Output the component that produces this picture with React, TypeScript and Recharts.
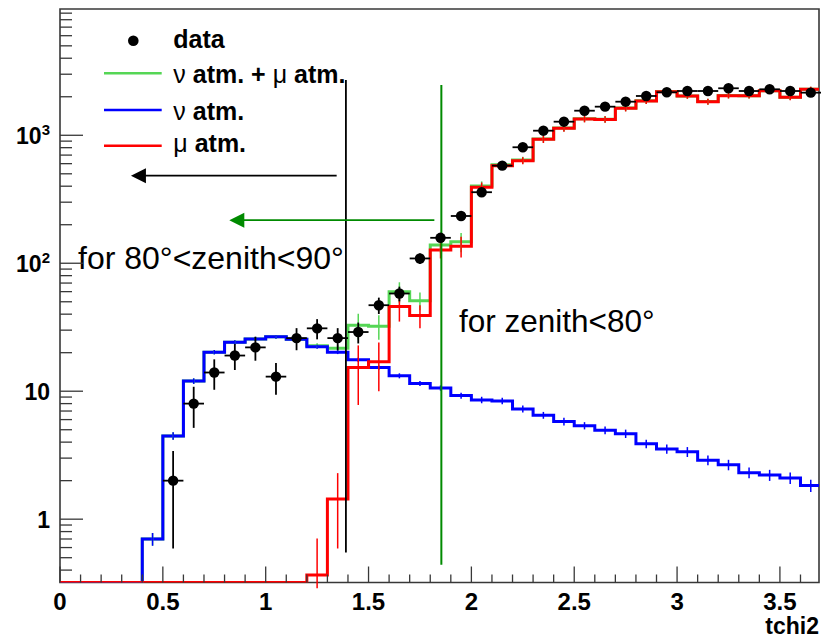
import React from 'react';
import {
  ComposedChart,
  Line,
  Scatter,
  XAxis,
  YAxis,
  ErrorBar,
  ReferenceLine,
  ReferenceArea,
  Customized,
} from 'recharts';

// ---------- axis ranges & ticks ----------
const XMAX = 3.69;
const YMIN = 0.32;
const YMAX = 9700;

const X_MAJOR_TICKS = [0, 0.5, 1, 1.5, 2, 2.5, 3, 3.5];
const X_TICKS = [
  0, 0.1, 0.2, 0.3, 0.4, 0.5, 0.6, 0.7, 0.8, 0.9, 1, 1.1, 1.2, 1.3, 1.4, 1.5, 1.6, 1.7, 1.8, 1.9, 2,
  2.1, 2.2, 2.3, 2.4, 2.5, 2.6, 2.7, 2.8, 2.9, 3, 3.1, 3.2, 3.3, 3.4, 3.5, 3.6,
];
const X_TICK_LABELS: Record<string, string> = {
  '0': '0', '0.5': '0.5', '1': '1', '1.5': '1.5', '2': '2', '2.5': '2.5', '3': '3', '3.5': '3.5',
};
const Y_TICKS = [
  0.4, 0.5, 0.6, 0.7, 0.8, 0.9,
  1, 2, 3, 4, 5, 6, 7, 8, 9,
  10, 20, 30, 40, 50, 60, 70, 80, 90,
  100, 200, 300, 400, 500, 600, 700, 800, 900,
  1000, 2000, 3000, 4000, 5000, 6000, 7000, 8000, 9000,
];
const Y_MAJOR_LABELS: Record<string, [string, string]> = {
  '1': ['1', ''],
  '10': ['10', ''],
  '100': ['10', '2'],
  '1000': ['10', '3'],
};

// ---------- histogram binning ----------
const BIN_EDGES = [
  0, 0.1, 0.2, 0.3, 0.4, 0.5, 0.6, 0.7, 0.8, 0.9, 1, 1.1, 1.2, 1.3, 1.4, 1.5, 1.6, 1.7, 1.8, 1.9, 2,
  2.1, 2.2, 2.3, 2.4, 2.5, 2.6, 2.7, 2.8, 2.9, 3, 3.1, 3.2, 3.3, 3.4, 3.5, 3.6, 3.7,
];
const BIN_CENTERS = [
  0.05, 0.15, 0.25, 0.35, 0.45, 0.55, 0.65, 0.75, 0.85, 0.95, 1.05, 1.15, 1.25, 1.35, 1.45, 1.55,
  1.65, 1.75, 1.85, 1.95, 2.05, 2.15, 2.25, 2.35, 2.45, 2.55, 2.65, 2.75, 2.85, 2.95, 3.05, 3.15,
  3.25, 3.35, 3.45, 3.55, 3.65,
];

// ν atm. (blue)
const NU_ATM = [
  0, 0, 0, 0, 0.7, 4.47, 12.0, 20.2, 24.1, 25.6, 26.6, 25.5, 22.3, 20.2, 17.6, 15.3, 13.2, 11.5,
  10.6, 9.24, 8.55, 8.4, 7.27, 6.49, 5.79, 5.38, 4.96, 4.66, 3.88, 3.54, 3.36, 2.89, 2.66, 2.31,
  2.21, 2.1, 1.83,
];
const NU_ATM_ERR = [
  null, null, null, null, 0.08, 0.3, 0.6, 0.8, 0.9, 0.9, 0.9, 0.9, 0.8, 0.7, 0.7, 0.6, 0.6, 0.5,
  0.5, 0.5, 0.5, 0.5, 0.45, 0.4, 0.4, 0.35, 0.35, 0.35, 0.3, 0.3, 0.3, 0.25, 0.25, 0.22, 0.22,
  0.22, 0.2,
];

// μ atm. (red)
const MU_ATM = [
  0, 0, 0, 0, 0, 0, 0, 0, 0, 0, 0, 0, 0.367, 1.44, 15.3, 17.0, 46, 39, 127, 136, 392, 579, 633,
  930, 1135, 1341, 1330, 1625, 1854, 2192, 2028, 1830, 2039, 2039, 2230, 1982, 2287,
];
const MU_ATM_ERR = [
  null, null, null, null, null, null, null, null, null, null, null, null, 0.34, 0.85, 7.5, 7, 11,
  8, 18, 25, 35, 40, 40, 60, 70, 80, 80, 90, 100, 110, 100, 100, 100, 100, 110, 100, 110,
];

// ν atm. + μ atm. (green)
const SUM_ATM = [
  0, 0, 0, 0, 0.7, 4.47, 12.0, 20.2, 24.1, 25.6, 26.6, 25.5, 22.7, 21.7, 32.8, 32.2, 60, 51, 139,
  147, 401, 588, 641, 937, 1141, 1346, 1335, 1630, 1858, 2196, 2031, 1833, 2042, 2041, 2232, 1984,
  2289,
];
const SUM_ATM_ERR = [
  null, null, null, null, 0.08, 0.3, 0.6, 0.8, 0.9, 0.9, 0.9, 0.9, 1.0, 1.2, 7.5, 7, 11, 8, 18,
  25, 35, 40, 40, 60, 70, 80, 80, 90, 100, 110, 100, 100, 100, 100, 110, 100, 110,
];

// data (black points)
const DATA_X = [
  0.55, 0.65, 0.75, 0.85, 0.95, 1.05, 1.15, 1.25, 1.35, 1.45, 1.55, 1.65, 1.75, 1.85, 1.95, 2.05,
  2.15, 2.25, 2.35, 2.45, 2.55, 2.65, 2.75, 2.85, 2.95, 3.05, 3.15, 3.25, 3.35, 3.45, 3.55, 3.65,
];
const DATA_Y = [
  2, 8, 14, 19, 22, 13, 26, 31, 26, 29, 47, 58, 109, 158, 234, 359, 579, 806, 1086, 1277, 1556,
  1673, 1830, 2028, 2168, 2218, 2218, 2330, 2218, 2287, 2218, 2153,
];
const DATA_ERR = [
  1.41, 2.83, 3.74, 4.36, 4.69, 3.61, 5.1, 5.57, 5.1, 5.39, 6.86, 7.62, 10.4, 12.6, 15.3, 18.9,
  24.1, 28.4, 33.0, 35.7, 39.4, 40.9, 42.8, 45.0, 46.6, 47.1, 47.1, 48.3, 47.1, 47.8, 47.1, 46.4,
];
const BIN_HALF_WIDTH = 0.05;

// annotation positions (data coordinates)
const CUT_LOW = { x: 1.39, yTop: 2700, yBottom: 0.55 };
const CUT_HIGH = { x: 1.854, yTop: 2470, yBottom: 0.44 };
const ARROW_BLACK = { xFrom: 1.345, xTo: 0.345, y: 483 };
const ARROW_GREEN = { xFrom: 1.82, xTo: 0.823, y: 217 };

// ---------- build tables ----------
const floor = (v: number) => (v > 0 ? v : YMIN);

const stepTable = (vals: number[]) =>
  BIN_EDGES.map((x, i) => ({ x, y: floor(vals[Math.min(i, vals.length - 1)]) }));

const errTable = (vals: number[], errs: (number | null)[]) =>
  BIN_CENTERS.map((x, i) => ({ x, y: vals[i], e: errs[i] }))
    .filter((d) => d.e !== null && d.y > 0)
    .map((d) => ({ x: d.x, y: d.y, ey: [Math.min(d.e as number, d.y - YMIN * 0.9), d.e as number] }));

const greenStep = stepTable(SUM_ATM);
const blueStep = stepTable(NU_ATM);
const redStep = stepTable(MU_ATM);
const greenErr = errTable(SUM_ATM, SUM_ATM_ERR);
const blueErr = errTable(NU_ATM, NU_ATM_ERR);
const redErr = errTable(MU_ATM, MU_ATM_ERR);
const dataPts = DATA_X.map((x, i) => ({
  x,
  y: DATA_Y[i],
  ex: BIN_HALF_WIDTH,
  ey: [Math.min(DATA_ERR[i], DATA_Y[i] - YMIN * 0.9), DATA_ERR[i]],
}));

// ---------- styling ----------
const FONT = "'Liberation Sans', Arial, Helvetica, sans-serif";
const GREEN = '#55d655';
const BLUE = '#0000ff';
const RED = '#ff0000';
const DARK_GREEN = '#008a00';
const FRAME = '#383838';

const XTick = (props: any) => {
  const { x, y, payload } = props;
  const v = payload.value;
  const key = String(Math.round(v * 10) / 10);
  const label = X_TICK_LABELS[key];
  const major = label !== undefined;
  return (
    <g>
      <line x1={x} y1={y} x2={x} y2={y - (major ? 16 : 8)} stroke={FRAME} strokeWidth={1.3} />
      {major && (
        <text x={x} y={y + 27.5} textAnchor="middle" fontFamily={FONT} fontWeight="bold" fontSize={24} fill="#000">
          {label}
        </text>
      )}
    </g>
  );
};

const YTick = (props: any) => {
  const { x, y, payload } = props;
  const v = payload.value;
  const lab = Y_MAJOR_LABELS[String(v)];
  const major = lab !== undefined;
  return (
    <g>
      <line x1={x} y1={y} x2={x + (major ? 23 : 12)} y2={y} stroke={FRAME} strokeWidth={1.3} />
      {major && (
        <text x={x - 10} y={y + 9} textAnchor="end" fontFamily={FONT} fontWeight="bold" fontSize={23} fill="#000">
          <tspan>{lab[0]}</tspan>
          {lab[1] && (
            <tspan dy={-9} fontSize={15}>
              {lab[1]}
            </tspan>
          )}
        </text>
      )}
    </g>
  );
};

const ArrowShape = (color: string) => (props: any) => {
  const { x1, y1, x2, y2 } = props;
  if ([x1, y1, x2, y2].some((v) => v === undefined || Number.isNaN(v))) return <g />;
  const tipX = Math.min(x1, x2);
  const tailX = Math.max(x1, x2);
  const yy = (y1 + y2) / 2;
  return (
    <g>
      <line x1={tailX} y1={yy} x2={tipX + 10} y2={yy} stroke={color} strokeWidth={1.8} />
      <polygon points={`${tipX},${yy} ${tipX + 15},${yy - 7.5} ${tipX + 15},${yy + 7.5}`} fill={color} />
    </g>
  );
};

const NoShape = () => <g />;
const DotShape = (props: any) => {
  const { cx, cy } = props;
  return <circle cx={cx} cy={cy} r={5.2} fill="#000" />;
};

const Overlay = () => (
  <g fontFamily={FONT}>
    {/* legend */}
    <circle cx={133.3} cy={40.7} r={5.3} fill="#000" />
    <text x={173.3} y={48.3} fontSize={25} fontWeight="bold" fill="#000">data</text>
    <line x1={104} y1={73.3} x2={161.7} y2={73.3} stroke={GREEN} strokeWidth={2.6} />
    <text x={173.3} y={83.3} fontSize={25} fontWeight="bold" fill="#000">
      <tspan fontWeight="normal">ν</tspan>
      <tspan> atm. + </tspan>
      <tspan fontWeight="normal">μ</tspan>
      <tspan> atm.</tspan>
    </text>
    <line x1={104} y1={110} x2={161.7} y2={110} stroke={BLUE} strokeWidth={2.6} />
    <text x={173.3} y={119.5} fontSize={25} fontWeight="bold" fill="#000">
      <tspan fontWeight="normal">ν</tspan>
      <tspan> atm.</tspan>
    </text>
    <line x1={104} y1={145.7} x2={161.7} y2={145.7} stroke={RED} strokeWidth={2.6} />
    <text x={173.3} y={152} fontSize={25} fontWeight="bold" fill="#000">
      <tspan fontWeight="normal">μ</tspan>
      <tspan> atm.</tspan>
    </text>
    {/* annotations */}
    <text x={78} y={269} fontSize={32} fill="#000">for 80°&lt;zenith&lt;90°</text>
    <text x={459} y={331.7} fontSize={31.5} fill="#000">for zenith&lt;80°</text>
    {/* axis title */}
    <text x={819} y={634} textAnchor="end" fontSize={23} fontWeight="bold" fill="#000">tchi2</text>
  </g>
);

export default function App() {
  return (
    <div style={{ position: 'absolute', left: 0, top: 0, width: 821, height: 642, background: '#fff' }}>
      <ComposedChart width={821} height={642} margin={{ top: 9, right: 2, bottom: 0, left: 0 }}>
        <XAxis
          dataKey="x"
          type="number"
          domain={[0, XMAX]}
          allowDataOverflow
          ticks={X_TICKS}
          interval={0}
          tickSize={0}
          tickMargin={0}
          tickLine={false}
          axisLine={false}
          height={59.5}
          tick={<XTick />}
        />
        <YAxis
          dataKey="y"
          type="number"
          scale="log"
          domain={[YMIN, YMAX]}
          allowDataOverflow
          ticks={Y_TICKS}
          interval={0}
          tickSize={0}
          tickMargin={0}
          tickLine={false}
          axisLine={false}
          width={60}
          tick={<YTick />}
        />
        <ReferenceArea
          x1={0}
          x2={XMAX}
          y1={YMIN}
          y2={YMAX}
          fill="none"
          fillOpacity={0}
          stroke={FRAME}
          strokeWidth={1.6}
          ifOverflow="visible"
        />
        <Line data={greenStep} dataKey="y" type="stepAfter" stroke={GREEN} strokeWidth={3} dot={false} isAnimationActive={false} />
        <Line data={blueStep} dataKey="y" type="stepAfter" stroke={BLUE} strokeWidth={3} dot={false} isAnimationActive={false} />
        <Line data={redStep} dataKey="y" type="stepAfter" stroke={RED} strokeWidth={3} dot={false} isAnimationActive={false} />
        <Scatter data={greenErr} dataKey="y" shape={NoShape} isAnimationActive={false}>
          <ErrorBar dataKey="ey" direction="y" width={0} stroke={GREEN} strokeWidth={1.5} />
        </Scatter>
        <Scatter data={blueErr} dataKey="y" shape={NoShape} isAnimationActive={false}>
          <ErrorBar dataKey="ey" direction="y" width={0} stroke={BLUE} strokeWidth={1.5} />
        </Scatter>
        <Scatter data={redErr} dataKey="y" shape={NoShape} isAnimationActive={false}>
          <ErrorBar dataKey="ey" direction="y" width={0} stroke={RED} strokeWidth={1.5} />
        </Scatter>
        <ReferenceLine
          segment={[{ x: CUT_LOW.x, y: CUT_LOW.yTop }, { x: CUT_LOW.x, y: CUT_LOW.yBottom }]}
          stroke="#000"
          strokeWidth={1.8}
        />
        <ReferenceLine
          segment={[{ x: CUT_HIGH.x, y: CUT_HIGH.yTop }, { x: CUT_HIGH.x, y: CUT_HIGH.yBottom }]}
          stroke={DARK_GREEN}
          strokeWidth={2}
        />
        <ReferenceLine
          segment={[{ x: ARROW_BLACK.xFrom, y: ARROW_BLACK.y }, { x: ARROW_BLACK.xTo, y: ARROW_BLACK.y }]}
          stroke="#000"
          shape={ArrowShape('#000')}
        />
        <ReferenceLine
          segment={[{ x: ARROW_GREEN.xFrom, y: ARROW_GREEN.y }, { x: ARROW_GREEN.xTo, y: ARROW_GREEN.y }]}
          stroke={DARK_GREEN}
          shape={ArrowShape(DARK_GREEN)}
        />
        <Scatter data={dataPts} dataKey="y" shape={DotShape} isAnimationActive={false}>
          <ErrorBar dataKey="ex" direction="x" width={0} stroke="#000" strokeWidth={1.8} />
          <ErrorBar dataKey="ey" direction="y" width={0} stroke="#000" strokeWidth={1.8} />
        </Scatter>
        <Customized component={Overlay} />
      </ComposedChart>
    </div>
  );
}
